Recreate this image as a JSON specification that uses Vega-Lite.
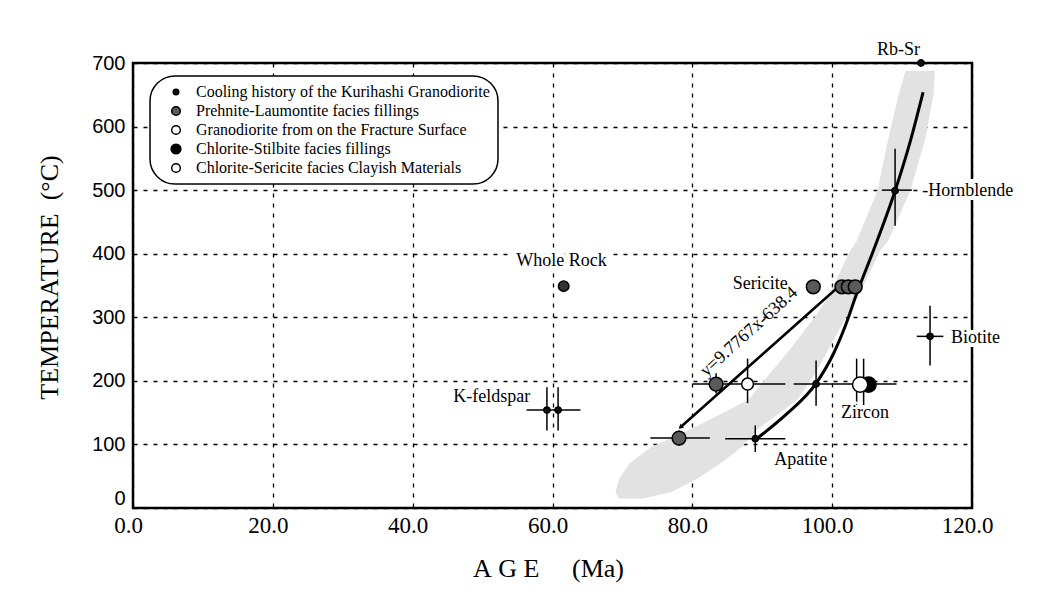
{
  "$schema": "https://vega.github.io/schema/vega-lite/v6.json",
  "width": 839,
  "height": 445,
  "autosize": {"type": "none"},
  "padding": {"left": 133, "top": 63, "right": 78, "bottom": 95},
  "background": "white",
  "config": {
    "view": {"stroke": "black", "strokeWidth": 2.5},
    "font": "Liberation Serif",
    "axis": {
      "grid": true, "gridColor": "black", "gridDash": [4, 6], "gridWidth": 1.3, "gridOpacity": 1,
      "domain": false, "ticks": false, "labelColor": "black", "titleColor": "black",
      "titleFontWeight": "normal", "labelFlush": false, "labelOverlap": false
    }
  },
  "datasets": {
    "band": [
      {"temp": 15, "lo": 69.5, "hi": 73.0},
      {"temp": 25, "lo": 69.0, "hi": 77.0},
      {"temp": 45, "lo": 69.5, "hi": 80.5},
      {"temp": 70, "lo": 71.0, "hi": 84.0},
      {"temp": 95, "lo": 74.0, "hi": 87.0},
      {"temp": 125, "lo": 80.0, "hi": 89.5},
      {"temp": 170, "lo": 88.0, "hi": 95.0},
      {"temp": 210, "lo": 91.0, "hi": 97.5},
      {"temp": 250, "lo": 94.0, "hi": 99.5},
      {"temp": 300, "lo": 97.5, "hi": 102.0},
      {"temp": 330, "lo": 99.3, "hi": 103.6},
      {"temp": 405, "lo": 102.6, "hi": 106.9},
      {"temp": 420, "lo": 103.5, "hi": 108.0},
      {"temp": 500, "lo": 106.5, "hi": 111.2},
      {"temp": 580, "lo": 108.0, "hi": 113.3},
      {"temp": 650, "lo": 109.5, "hi": 114.5},
      {"temp": 688, "lo": 110.5, "hi": 114.7}
    ],
    "regression": [
      {"age": 78.3, "temp": 127},
      {"age": 100.7, "temp": 346}
    ],
    "curve": [
      {"age": 89.2, "temp": 109},
      {"age": 93.5, "temp": 148},
      {"age": 97.7, "temp": 196},
      {"age": 100.2, "temp": 243},
      {"age": 101.9, "temp": 287},
      {"age": 103.6, "temp": 340},
      {"age": 105.9, "temp": 405},
      {"age": 109.0, "temp": 499},
      {"age": 111.2, "temp": 578},
      {"age": 113.0, "temp": 654}
    ],
    "errors": [
      {"age": 107.1, "temp": 500, "age2": 111.4, "temp2": 500},
      {"age": 109.0, "temp": 444, "age2": 109.0, "temp2": 565},
      {"age": 112.1, "temp": 270, "age2": 115.9, "temp2": 270},
      {"age": 114.0, "temp": 224, "age2": 114.0, "temp2": 318},
      {"age": 56.3, "temp": 154, "age2": 64.0, "temp2": 154},
      {"age": 59.2, "temp": 122, "age2": 59.2, "temp2": 190},
      {"age": 60.8, "temp": 122, "age2": 60.8, "temp2": 190},
      {"age": 74.0, "temp": 110, "age2": 82.5, "temp2": 110},
      {"age": 78.1, "temp": 98, "age2": 78.1, "temp2": 122},
      {"age": 80.1, "temp": 195, "age2": 93.3, "temp2": 195},
      {"age": 94.5, "temp": 195, "age2": 109.2, "temp2": 195},
      {"age": 83.4, "temp": 180, "age2": 83.4, "temp2": 212},
      {"age": 87.9, "temp": 165, "age2": 87.9, "temp2": 235},
      {"age": 97.7, "temp": 161, "age2": 97.7, "temp2": 232},
      {"age": 103.5, "temp": 160, "age2": 103.5, "temp2": 235},
      {"age": 104.5, "temp": 160, "age2": 104.5, "temp2": 235},
      {"age": 84.7, "temp": 109, "age2": 93.3, "temp2": 109},
      {"age": 89.0, "temp": 88, "age2": 89.0, "temp2": 130}
    ],
    "cooling": [
      {"age": 112.7, "temp": 700, "group": "Cooling history of the Kurihashi Granodiorite"},
      {"age": 109.0, "temp": 499, "group": "Cooling history of the Kurihashi Granodiorite"},
      {"age": 114.0, "temp": 270, "group": "Cooling history of the Kurihashi Granodiorite"},
      {"age": 59.2, "temp": 154, "group": "Cooling history of the Kurihashi Granodiorite"},
      {"age": 60.8, "temp": 154, "group": "Cooling history of the Kurihashi Granodiorite"},
      {"age": 89.0, "temp": 109, "group": "Cooling history of the Kurihashi Granodiorite"},
      {"age": 97.7, "temp": 195, "group": "Cooling history of the Kurihashi Granodiorite"}
    ],
    "wholeRock": [
      {"age": 61.6, "temp": 349}
    ],
    "prehnite": [
      {"age": 78.1, "temp": 110, "group": "Prehnite-Laumontite facies fillings"},
      {"age": 83.4, "temp": 195, "group": "Prehnite-Laumontite facies fillings"},
      {"age": 97.3, "temp": 348, "group": "Prehnite-Laumontite facies fillings"},
      {"age": 101.4, "temp": 348, "group": "Prehnite-Laumontite facies fillings"},
      {"age": 102.3, "temp": 348, "group": "Prehnite-Laumontite facies fillings"},
      {"age": 103.3, "temp": 348, "group": "Prehnite-Laumontite facies fillings"}
    ],
    "granodiorite": [
      {"age": 87.9, "temp": 195, "group": "Granodiorite from on the Fracture Surface"}
    ],
    "zircon": [
      {"age": 105.2, "temp": 194, "group": "Chlorite-Stilbite facies fillings"},
      {"age": 104.0, "temp": 194, "group": "Chlorite-Sericite facies Clayish Materials"}
    ],
    "arrow": [
      {"age": 78.3, "temp": 127}
    ],
    "labelsCenter": [
      {"label": "Rb-Sr", "age": 109.5, "temp": 720},
      {"label": "Whole Rock", "age": 61.3, "temp": 389},
      {"label": "K-feldspar", "age": 51.3, "temp": 175},
      {"label": "Sericite", "age": 89.7, "temp": 352},
      {"label": "Zircon", "age": 104.7, "temp": 149},
      {"label": "Apatite", "age": 95.5, "temp": 76}
    ],
    "labelsLeft": [
      {"label": "-Hornblende", "age": 112.9, "temp": 499},
      {"label": "Biotite", "age": 117.0, "temp": 268}
    ],
    "equation": [
      {"label": "y=9.7767x-638.4", "age": 88.1, "temp": 277}
    ]
  },
  "layer": [
    {
      "data": {"name": "band"},
      "mark": {"type": "area", "orient": "horizontal", "fill": "#e2e2e2", "opacity": 1},
      "encoding": {
        "y": {
          "field": "temp", "type": "quantitative",
          "scale": {"domain": [0, 700], "nice": false, "zero": false},
          "axis": {
            "values": [0, 100, 200, 300, 400, 500, 600, 700], "format": "d",
            "labelFont": "Liberation Sans", "labelFontSize": 20, "labelPadding": 8,
            "labelBaseline": {"condition": {"test": "datum.value === 0", "value": "bottom"}, "value": "middle"},
            "title": "TEMPERATURE\u00a0\u00a0(°C)", "titleFont": "Liberation Serif", "titleFontSize": 26,
            "titleAngle": 270, "titleX": -84, "titleY": 214, "titleAlign": "center", "titleBaseline": "middle"
          }
        },
        "x": {
          "field": "lo", "type": "quantitative",
          "scale": {"domain": [0, 120], "nice": false, "zero": false},
          "axis": {
            "values": [0, 20, 40, 60, 80, 100, 120], "format": ".1f",
            "labelFont": "Liberation Serif", "labelFontSize": 23, "labelPadding": 6, "labelOffset": -5,
            "title": "A\u00a0G\u00a0E\u00a0\u00a0\u00a0\u00a0\u00a0(Ma)", "titleFont": "Liberation Serif", "titleFontSize": 26,
            "titleX": 415, "titleY": 47, "titleAlign": "center", "titleBaseline": "top"
          }
        },
        "x2": {"field": "hi"}
      }
    },
    {
      "data": {"name": "regression"},
      "mark": {"type": "line", "color": "black", "strokeWidth": 2.5},
      "encoding": {
        "x": {"field": "age", "type": "quantitative"},
        "y": {"field": "temp", "type": "quantitative"}
      }
    },
    {
      "data": {"name": "curve"},
      "mark": {"type": "line", "color": "black", "strokeWidth": 3, "interpolate": "monotone"},
      "encoding": {
        "x": {"field": "age", "type": "quantitative"},
        "y": {"field": "temp", "type": "quantitative"}
      }
    },
    {
      "data": {"name": "errors"},
      "mark": {"type": "rule", "color": "black", "strokeWidth": 1.5},
      "encoding": {
        "x": {"field": "age", "type": "quantitative"},
        "y": {"field": "temp", "type": "quantitative"},
        "x2": {"field": "age2"},
        "y2": {"field": "temp2"}
      }
    },
    {
      "data": {"name": "arrow"},
      "mark": {"type": "point", "shape": "triangle-up", "filled": true, "color": "black", "size": 30, "angle": 229, "opacity": 1},
      "encoding": {
        "x": {"field": "age", "type": "quantitative"},
        "y": {"field": "temp", "type": "quantitative"}
      }
    },
    {
      "data": {"name": "prehnite"},
      "mark": {"type": "point", "shape": "circle", "filled": true, "stroke": "black", "strokeWidth": 1.5, "size": 190, "opacity": 1},
      "encoding": {
        "x": {"field": "age", "type": "quantitative"},
        "y": {"field": "temp", "type": "quantitative"},
        "fill": {
          "field": "group", "type": "nominal",
          "scale": {
            "domain": ["Cooling history of the Kurihashi Granodiorite", "Prehnite-Laumontite facies fillings", "Granodiorite from on the Fracture Surface", "Chlorite-Stilbite facies fillings", "Chlorite-Sericite facies Clayish Materials"],
            "range": ["#111111", "#5a5a5a", "white", "black", "white"]
          },
          "legend": {
            "title": null, "orient": "none", "legendX": 17, "legendY": 13, "padding": 8, "cornerRadius": 25,
            "strokeColor": "black", "fillColor": "white",
            "labelFont": "Liberation Serif", "labelFontSize": 16, "labelColor": "black", "labelLimit": 400,
            "symbolOffset": 10, "labelOffset": 12, "rowPadding": 3, "symbolType": "circle",
            "symbolStrokeColor": "black", "symbolStrokeWidth": 1.5, "symbolSize": 80, "symbolOpacity": 1,
            "encode": {
              "legend": {"update": {"strokeWidth": {"value": 1.5}}},
              "symbols": {"update": {"size": {"signal": "datum.value === 'Cooling history of the Kurihashi Granodiorite' ? 30 : (datum.value === 'Chlorite-Stilbite facies fillings' ? 95 : 75)"}, "opacity": {"value": 1}}}
            }
          }
        }
      }
    },
    {
      "data": {"name": "wholeRock"},
      "mark": {"type": "point", "shape": "circle", "filled": true, "fill": "#333333", "stroke": "black", "strokeWidth": 1.5, "size": 110, "opacity": 1},
      "encoding": {
        "x": {"field": "age", "type": "quantitative"},
        "y": {"field": "temp", "type": "quantitative"}
      }
    },
    {
      "data": {"name": "cooling"},
      "mark": {"type": "point", "shape": "circle", "filled": true, "stroke": "black", "strokeWidth": 1.5, "size": 40, "clip": false, "opacity": 1},
      "encoding": {
        "x": {"field": "age", "type": "quantitative"},
        "y": {"field": "temp", "type": "quantitative"},
        "fill": {"field": "group", "type": "nominal"}
      }
    },
    {
      "data": {"name": "granodiorite"},
      "mark": {"type": "point", "shape": "circle", "filled": true, "stroke": "black", "strokeWidth": 1.5, "size": 140, "opacity": 1},
      "encoding": {
        "x": {"field": "age", "type": "quantitative"},
        "y": {"field": "temp", "type": "quantitative"},
        "fill": {"field": "group", "type": "nominal"}
      }
    },
    {
      "data": {"name": "zircon"},
      "mark": {"type": "point", "shape": "circle", "filled": true, "stroke": "black", "strokeWidth": 1.5, "size": 230, "opacity": 1},
      "encoding": {
        "x": {"field": "age", "type": "quantitative"},
        "y": {"field": "temp", "type": "quantitative"},
        "fill": {"field": "group", "type": "nominal"}
      }
    },
    {
      "data": {"name": "labelsLeft"},
      "mark": {"type": "text", "font": "Liberation Serif", "fontSize": 18, "color": "white", "stroke": "white", "strokeWidth": 8, "align": "left", "baseline": "middle", "clip": false},
      "encoding": {
        "x": {"field": "age", "type": "quantitative"},
        "y": {"field": "temp", "type": "quantitative"},
        "text": {"field": "label"}
      }
    },
    {
      "data": {"name": "labelsCenter"},
      "mark": {"type": "text", "font": "Liberation Serif", "fontSize": 18, "color": "white", "stroke": "white", "strokeWidth": 8, "align": "center", "baseline": "middle", "clip": false},
      "encoding": {
        "x": {"field": "age", "type": "quantitative"},
        "y": {"field": "temp", "type": "quantitative"},
        "text": {"field": "label"}
      }
    },
    {
      "data": {"name": "labelsCenter"},
      "mark": {"type": "text", "font": "Liberation Serif", "fontSize": 18, "color": "black", "align": "center", "baseline": "middle", "clip": false},
      "encoding": {
        "x": {"field": "age", "type": "quantitative"},
        "y": {"field": "temp", "type": "quantitative"},
        "text": {"field": "label"}
      }
    },
    {
      "data": {"name": "labelsLeft"},
      "mark": {"type": "text", "font": "Liberation Serif", "fontSize": 18, "color": "black", "align": "left", "baseline": "middle", "clip": false},
      "encoding": {
        "x": {"field": "age", "type": "quantitative"},
        "y": {"field": "temp", "type": "quantitative"},
        "text": {"field": "label"}
      }
    },
    {
      "data": {"name": "equation"},
      "mark": {"type": "text", "font": "Liberation Serif", "fontSize": 18, "color": "black", "align": "center", "baseline": "middle", "angle": 318},
      "encoding": {
        "x": {"field": "age", "type": "quantitative"},
        "y": {"field": "temp", "type": "quantitative"},
        "text": {"field": "label"}
      }
    }
  ]
}
